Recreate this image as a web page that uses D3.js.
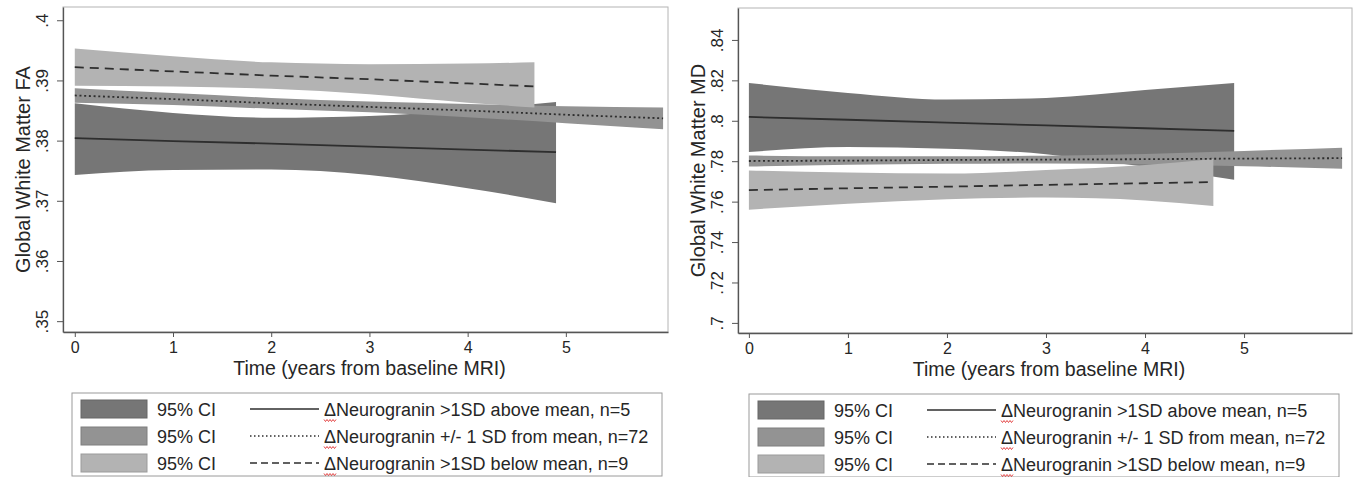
<!DOCTYPE html>
<meta charset="utf-8">
<style>

    body {
        margin: 0;
        background: #fff;
    }

    text {
        font-family: "Liberation Sans", Arial, sans-serif;
        fill: #262626;
    }

    .tick line, .domain {
        stroke: #555;
    }

</style>
<body>

    <div id="chart"></div>

    <script src="https://d3js.org/d3.v7.min.js"></script>

    <script type="text/javascript">

        // ticks
        var xTicks = [0, 1, 2, 3, 4, 5];
        var faTicks = [.35, .36, .37, .38, .39, .4];
        var mdTicks = [.7, .72, .74, .76, .78, .8, .82, .84];

        // legend labels
        var groupLabels = [
            "Neurogranin >1SD above mean, n=5",
            "Neurogranin +/- 1 SD from mean, n=72",
            "Neurogranin >1SD below mean, n=9"
        ];

        // FA panel
        var faAboveT = [0, 1, 2, 3, 4, 4.9];
        var faAboveMean = [.3804, .3799, .3795, .3790, .3785, .3781];
        var faAboveLo = [.3743, .3751, .3752, .3743, .3721, .3696];
        var faAboveHi = [.3862, .3846, .3838, .3841, .3851, .3864];

        var faMidT = [0, 1, 2, 3, 4, 5, 5.99];
        var faMidMean = [.3875, .3869, .3862, .3856, .3850, .3843, .3837];
        var faMidLo = [.3863, .3859, .3853, .3847, .3839, .3829, .3819];
        var faMidHi = [.3887, .3879, .3871, .3865, .3861, .3857, .3855];

        var faBelowT = [0, 1, 2, 3, 4, 4.68];
        var faBelowMean = [.3922, .3915, .3908, .3902, .3895, .3890];
        var faBelowLo = [.3891, .3890, .3886, .3877, .3863, .3855];
        var faBelowHi = [.3953, .3940, .3930, .3927, .3928, .3930];

        // MD panel
        var mdAboveT = [0, 1, 2, 3, 4, 4.9];
        var mdAboveMean = [.8019, .8005, .7991, .7977, .7963, .7950];
        var mdAboveLo = [.7845, .7870, .7862, .7835, .7772, .7708];
        var mdAboveHi = [.8187, .8138, .8105, .8113, .8152, .8187];

        var mdMidT = [0, 1, 2, 3, 4, 5, 5.99];
        var mdMidMean = [.7801, .7803, .7806, .7808, .7810, .7813, .7815];
        var mdMidLo = [.7774, .7782, .7787, .7789, .7784, .7775, .7763];
        var mdMidHi = [.7828, .7824, .7825, .7827, .7836, .7851, .7867];

        var mdBelowT = [0, 1, 2, 3, 4, 4.69];
        var mdBelowMean = [.7657, .7666, .7674, .7683, .7691, .7697];
        var mdBelowLo = [.7560, .7590, .7612, .7620, .7606, .7578];
        var mdBelowHi = [.7754, .7744, .7739, .7756, .7781, .7811];

        // styles per group: above, +/-1SD, below
        var fills = ["#767676", "#939393", "#b3b3b3"];
        var dashes = [null, "2,2.7", "9,6"];
        var legendDashes = [null, "1.5,2.5", "7,4"];

        function series(t, mean, lo, hi) {
            return t.map(function (d, i) {
                return { t: d, mean: mean[i], lo: lo[i], hi: hi[i] };
            });
        }

        var faSeries = [
            series(faAboveT, faAboveMean, faAboveLo, faAboveHi),
            series(faMidT, faMidMean, faMidLo, faMidHi),
            series(faBelowT, faBelowMean, faBelowLo, faBelowHi)
        ];

        var mdSeries = [
            series(mdAboveT, mdAboveMean, mdAboveLo, mdAboveHi),
            series(mdMidT, mdMidMean, mdMidLo, mdMidHi),
            series(mdBelowT, mdBelowMean, mdBelowLo, mdBelowHi)
        ];

        var svg = d3.select("#chart")
            .append("svg")
            .attr("width", 1357)
            .attr("height", 477);

        // stata style: no leading zero
        var fmt = function (d) { return String(d).replace(/^0/, ""); };

        drawPanel({
            left: 63, right: 668, top: 7, bottom: 332,
            xDomain: [-0.12, 6.04],
            yDomain: [.3482, .4022],
            yTicks: faTicks,
            yLabel: "Global White Matter FA",
            data: faSeries
        });

        drawPanel({
            left: 738, right: 1352, top: 8, bottom: 333,
            xDomain: [-0.11, 6.09],
            yDomain: [.6950, .8558],
            yTicks: mdTicks,
            yLabel: "Global White Matter MD",
            data: mdSeries
        });

        drawLegend(72, 393);
        drawLegend(749, 394);

        function drawPanel(p) {

            var x = d3.scaleLinear().domain(p.xDomain).range([p.left, p.right]),
                y = d3.scaleLinear().domain(p.yDomain).range([p.bottom, p.top]);

            var g = svg.append("g");

            // plot region outline (top / right)
            g.append("rect")
                .attr("x", p.left)
                .attr("y", p.top)
                .attr("width", p.right - p.left)
                .attr("height", p.bottom - p.top)
                .attr("fill", "none")
                .attr("stroke", "#b4b4b4");

            var area = d3.area()
                .curve(d3.curveMonotoneX)
                .x(function (d) { return x(d.t); })
                .y0(function (d) { return y(d.lo); })
                .y1(function (d) { return y(d.hi); });

            var line = d3.line()
                .x(function (d) { return x(d.t); })
                .y(function (d) { return y(d.mean); });

            // bands first, in stata order
            g.selectAll(".band")
                .data(p.data)
                .enter()
                .append("path")
                .attr("class", "band")
                .attr("d", area)
                .attr("fill", function (d, i) { return fills[i]; });

            g.selectAll(".fit")
                .data(p.data)
                .enter()
                .append("path")
                .attr("class", "fit")
                .attr("d", line)
                .attr("fill", "none")
                .attr("stroke", "#2e2e2e")
                .attr("stroke-width", 1.8)
                .attr("stroke-dasharray", function (d, i) { return dashes[i]; });

            // axes
            var xAxis = g.append("g")
                .attr("transform", "translate(0," + p.bottom + ")")
                .call(d3.axisBottom(x)
                    .tickValues(xTicks)
                    .tickFormat(d3.format("d"))
                    .tickSize(5)
                    .tickSizeOuter(0)
                    .tickPadding(5));

            xAxis.selectAll("text")
                .style("font-size", "16px")
                .style("font-family", "'Liberation Sans', Arial, sans-serif")
                .attr("fill", "#262626");

            var yAxis = g.append("g")
                .attr("transform", "translate(" + p.left + ",0)")
                .call(d3.axisLeft(y).tickValues(p.yTicks).tickFormat(fmt).tickSize(6).tickSizeOuter(0));

            yAxis.selectAll("text")
                .attr("x", null)
                .attr("dy", null)
                .attr("text-anchor", "middle")
                .attr("transform", "translate(-15,0) rotate(-90)")
                .style("font-size", "17px")
                .style("font-family", "'Liberation Sans', Arial, sans-serif")
                .attr("fill", "#262626");

            g.selectAll(".domain").attr("stroke-width", 1.3);

            // titles
            g.append("text")
                .attr("x", (p.left + p.right) / 2 + 4)
                .attr("y", p.bottom + 43)
                .attr("text-anchor", "middle")
                .style("font-size", "19.5px")
                .text("Time (years from baseline MRI)");

            g.append("text")
                .attr("transform", "translate(" + (p.left - 33) + "," + ((p.top + p.bottom) / 2) + ") rotate(-90)")
                .attr("text-anchor", "middle")
                .style("font-size", "20px")
                .text(p.yLabel);
        }

        function drawLegend(x0, y0) {

            var lg = svg.append("g")
                .attr("transform", "translate(" + x0 + "," + y0 + ")");

            lg.append("rect")
                .attr("width", 590)
                .attr("height", 83)
                .attr("fill", "#fff")
                .attr("stroke", "#9a9a9a");

            var rows = lg.selectAll(".row")
                .data(groupLabels)
                .enter()
                .append("g")
                .attr("class", "row")
                .attr("transform", function (d, i) { return "translate(0," + (16 + i * 27) + ")"; });

            rows.append("rect")
                .attr("x", 9)
                .attr("y", -9)
                .attr("width", 66)
                .attr("height", 18)
                .attr("fill", function (d, i) { return fills[i]; })
                .attr("stroke", function (d, i) { return d3.color(fills[i]).darker(0.4); });

            rows.append("text")
                .attr("x", 85)
                .attr("y", 6.5)
                .style("font-size", "18px")
                .text("95% CI");

            rows.append("line")
                .attr("x1", 178)
                .attr("x2", 247)
                .attr("stroke", "#2e2e2e")
                .attr("stroke-width", 1.5)
                .attr("stroke-dasharray", function (d, i) { return legendDashes[i]; });

            rows.append("text")
                .attr("x", 252)
                .attr("y", 6.5)
                .style("font-size", "18px")
                .text(function (d) { return "\u0394" + d; });

            // spellcheck squiggle under the delta
            rows.append("path")
                .attr("d", "M252,10.5 l1.5,2 l1.5,-2 l1.5,2 l1.5,-2 l1.5,2 l1.5,-2 l1.5,2 l1.5,-2")
                .attr("fill", "none")
                .attr("stroke", "#e03030")
                .attr("stroke-width", 0.9);
        }

    </script>

</body>
